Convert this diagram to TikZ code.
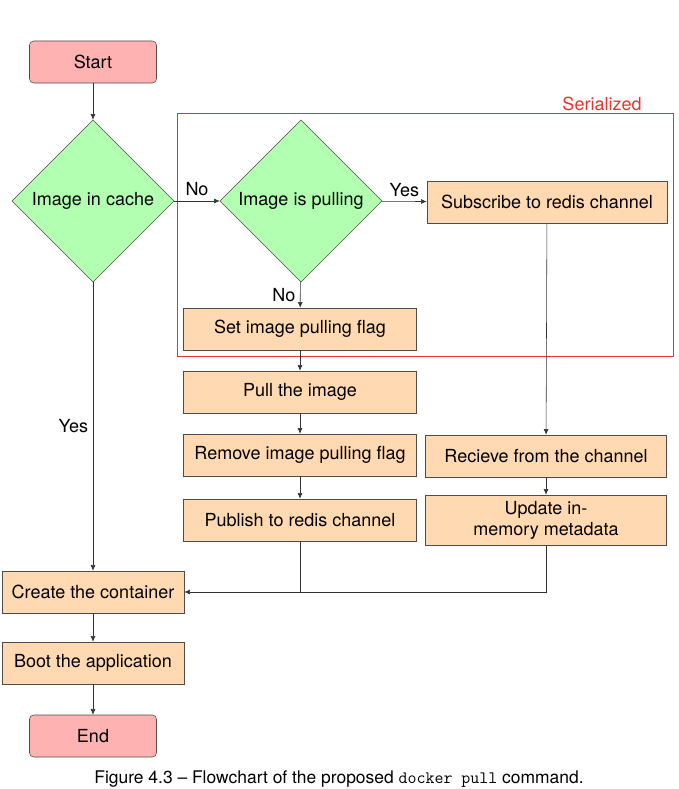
\documentclass[tikz,border=0pt]{standalone}
\usepackage{fontspec}
\setmainfont{TeX Gyre Heros}
\usetikzlibrary{shapes.geometric,arrows.meta,fit}

\definecolor{serialred}{RGB}{235,50,50}

\tikzset{
  term/.style={draw=black!70, fill=red!30, rounded corners=3pt, minimum width=3.175cm, minimum height=1.05cm},
  decide/.style={draw=black!70, fill=green!30, diamond, aspect=1, inner sep=0pt, minimum width=4.05cm, minimum height=4.05cm},
  proc/.style={draw=black!70, fill=orange!30, minimum width=5.825cm, minimum height=1.05cm},
  arr/.style={draw=black!80, -{Latex[length=4pt,width=3.5pt]}},
}

\begin{document}
\begin{tikzpicture}[x=0.025cm, y=-0.025cm, every node/.style={font=\fontsize{12.8}{15}\selectfont}]
  \useasboundingbox (0,0) rectangle (678,789);

  % left column
  \node[term] (start) at (93,62) {Start};
  \node[decide] (cache) at (93,201) {Image in cache};
  \node[proc, minimum width=4.55cm] (create) at (93,592) {Create the container};
  \node[proc, minimum width=4.55cm] (boot) at (93,663) {Boot the application};
  \node[term] (end) at (93,736) {End};

  % middle column
  \node[decide] (pulling) at (301,201) {Image is pulling};
  \node[proc] (setflag) at (300,329) {Set image pulling flag};
  \node[proc] (pull) at (300,392) {Pull the image};
  \node[proc] (rmflag) at (300,455) {Remove image pulling flag};
  \node[proc] (publish) at (300,520) {Publish to redis channel};

  % right column
  \node[proc, minimum width=6cm] (subscribe) at (547,202) {Subscribe to redis channel};
  \node[proc, minimum width=6.025cm] (recieve) at (546,456) {Recieve from the channel};
  \node[proc, minimum width=6.025cm, minimum height=1.25cm, align=center] (update) at (546,520) {Update in-\\memory metadata};

  % serialized region
  \node[draw=serialred, line width=0.6pt, fit=(pulling)(setflag)(subscribe), inner sep=0.15cm] (serial) {};
  \node[text=serialred] (seriallbl) at (602,104) {Serialized};

  \draw[arr] (start) -- (cache);
  \draw[arr] (cache) -- node[above] {No} (pulling);
  \draw[arr] (pulling) -- node[above] {Yes} (subscribe);
  \draw[arr] (pulling) -- node[left] {No} (setflag);
  \draw[arr] (setflag) -- (pull);
  \draw[arr] (pull) -- (rmflag);
  \draw[arr] (rmflag) -- (publish);
  \draw[arr] (subscribe) -- (recieve);
  \draw[arr] (recieve) -- (update);
  \draw[arr] (cache) -- node[left] {Yes} (create);
  \draw[draw=black!80] (publish) -- (publish |- create);
  \draw[arr] (update) |- (create);
  \draw[arr] (create) -- (boot);
  \draw[arr] (boot) -- (end);

  \node[font=\fontsize{12.4}{14}\selectfont] (caption) at (339,779) {Figure 4.3 -- Flowchart of the proposed \texttt{docker pull} command.};
\end{tikzpicture}
\end{document}
